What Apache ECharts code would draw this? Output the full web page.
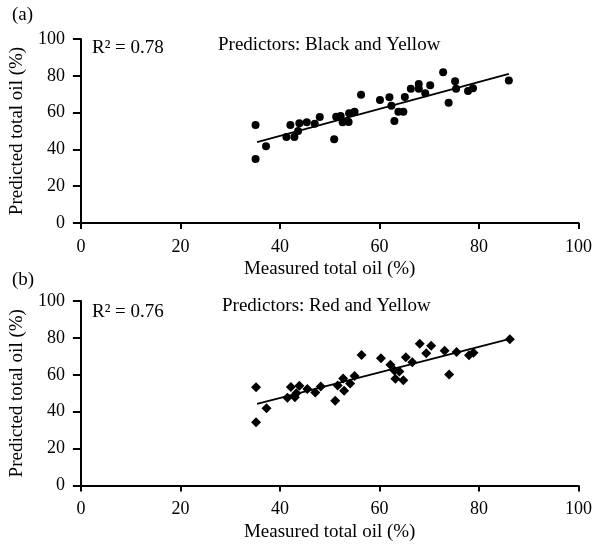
<!DOCTYPE html>
<html><head><meta charset="utf-8">
<script src="https://cdn.jsdelivr.net/npm/echarts@6/dist/echarts.min.js"></script>
<style>html,body{margin:0;padding:0;background:#fff}#c{width:595px;height:544px}</style>
</head><body><div id="c"></div>
<script>
var measuredA = [35.1,35.1,37.2,41.3,42.1,42.9,43.65,43.9,45.4,47.0,48.0,50.9,51.3,52.2,52.6,53.8,53.9,55.0,56.3,60.1,62.0,62.4,63.0,63.8,64.8,65.1,66.3,67.9,67.9,69.2,70.2,72.8,73.9,75.2,75.4,77.8,78.8,86.0];
var predictedA = [53.3,34.8,41.7,46.7,53.3,46.7,50.0,54.2,54.7,54.0,57.6,45.5,57.8,58.2,54.7,54.9,59.6,60.5,69.7,66.8,68.3,63.7,55.4,60.5,60.5,68.5,73.0,75.5,73.0,70.5,74.8,81.9,65.4,77.0,73.0,71.7,73.2,77.5];
var measuredB = [35.2,35.2,37.3,41.5,42.2,43.0,43.3,43.9,45.5,47.1,48.2,51.1,51.6,52.7,52.9,54.1,55.0,56.4,60.3,62.2,63.0,64.0,63.2,64.8,65.3,66.6,68.1,69.4,70.4,73.1,74.0,75.5,78.0,78.9,86.2];
var predictedB = [53.3,34.3,41.9,47.5,53.4,47.8,50.0,54.0,52.3,50.4,53.7,45.9,54.2,58.0,51.4,55.3,59.4,70.7,69.0,65.4,62.3,61.8,57.8,57.0,69.5,66.8,76.8,71.7,75.7,73.0,60.1,72.3,70.6,72.0,79.3];
var trendA = [[35.4,44.0],[86.0,81.1]];
var trendB = [[35.4,44.2],[86.2,79.5]];
var xTicks = [0,20,40,60,80,100];
var yTicks = [0,20,40,60,80,100];
var panelLabels = ['(a)','(b)'];
var predictorTexts = ['Predictors: Black and Yellow','Predictors: Red and Yellow'];
var r2Texts = ['R\u00b2 = 0.78','R\u00b2 = 0.76'];
var xName = 'Measured total oil (%)';
var yName = 'Predicted total oil (%)';

function zip(a,b){return a.map(function(v,i){return [v,b[i]];});}
var FONT = '"Liberation Serif","DejaVu Serif",serif';
var chart = echarts.init(document.getElementById('c'));
function xAxis(gi){
  return {gridIndex:gi,type:'value',min:0,max:100,interval:20,
    name:xName,nameLocation:'middle',nameGap:37,
    nameTextStyle:{fontFamily:FONT,fontSize:19,color:'#000'},
    axisLine:{show:true,lineStyle:{color:'#000',width:2}},
    axisTick:{show:true,length:6,lineStyle:{color:'#000',width:2}},
    axisLabel:{fontFamily:FONT,fontSize:18,color:'#000',margin:15,
      formatter:function(v){return xTicks.indexOf(v)>=0?String(v):'';}},
    splitLine:{show:false}};
}
function yAxis(gi){
  return {gridIndex:gi,type:'value',min:0,max:100,interval:20,
    name:yName,nameLocation:'middle',nameGap:49,
    nameTextStyle:{fontFamily:FONT,fontSize:19,color:'#000'},
    axisLine:{show:true,lineStyle:{color:'#000',width:2}},
    axisTick:{show:true,length:8,lineStyle:{color:'#000',width:2}},
    axisLabel:{fontFamily:FONT,fontSize:18,color:'#000',margin:16,
      formatter:function(v){return yTicks.indexOf(v)>=0?String(v):'';}},
    splitLine:{show:false}};
}
var graphics = [];
var panelY = [16, 281];
var textY = [46, 307];
var r2Y = [49, 313];
for (var i=0;i<2;i++){
  graphics.push({type:'text',left:12,top:panelY[i]-10,style:{text:panelLabels[i],font:'19px '+FONT,fill:'#000'}});
  graphics.push({type:'text',left:[218,222][i],top:textY[i]-10,style:{text:predictorTexts[i],font:'19px '+FONT,fill:'#000'}});
  graphics.push({type:'text',left:92,top:r2Y[i]-10,style:{text:r2Texts[i],font:'19px '+FONT,fill:'#000'}});
}
chart.setOption({
  animation:false,
  backgroundColor:'#fff',
  grid:[{left:80,top:39,width:504,height:184},{left:80,top:301,width:504,height:184.5}],
  xAxis:[xAxis(0),xAxis(1)],
  yAxis:[yAxis(0),yAxis(1)],
  graphic:graphics,
  series:[
    {type:'scatter',xAxisIndex:0,yAxisIndex:0,symbol:'circle',symbolSize:8,itemStyle:{color:'#000',opacity:1},data:zip(measuredA,predictedA)},
    {type:'line',xAxisIndex:0,yAxisIndex:0,symbol:'none',lineStyle:{color:'#000',width:1.8},data:trendA},
    {type:'scatter',xAxisIndex:1,yAxisIndex:1,symbol:'diamond',symbolSize:10,itemStyle:{color:'#000',opacity:1},data:zip(measuredB,predictedB)},
    {type:'line',xAxisIndex:1,yAxisIndex:1,symbol:'none',lineStyle:{color:'#000',width:1.8},data:trendB}
  ]
});
</script></body></html>
